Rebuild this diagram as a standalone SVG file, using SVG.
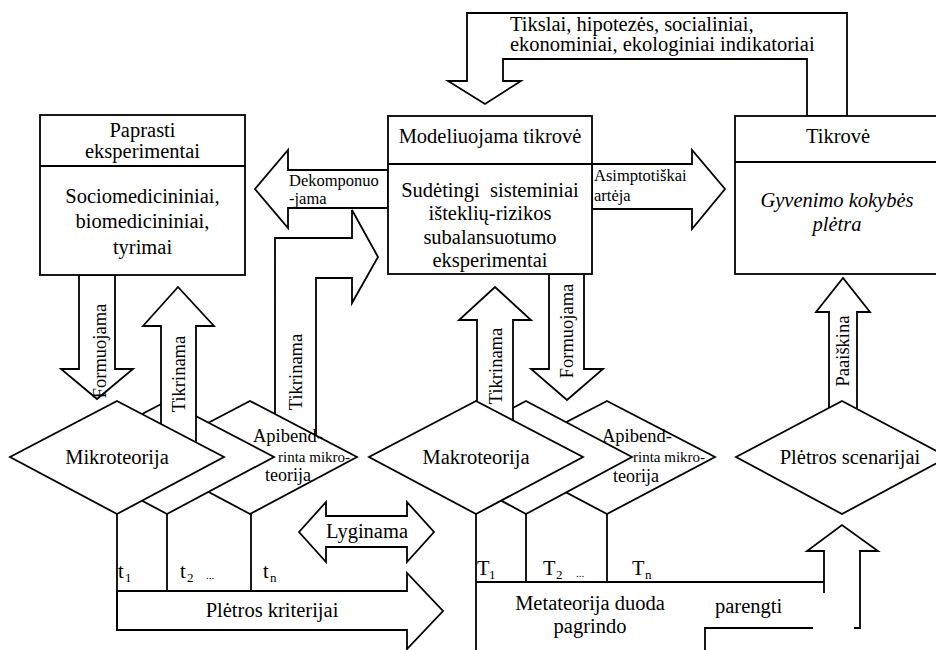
<svg xmlns="http://www.w3.org/2000/svg" width="936" height="650" viewBox="0 0 936 650">
<style>
.s{fill:#fff;stroke:#000;stroke-width:1.8;stroke-linejoin:miter}
.l{fill:none;stroke:#000;stroke-width:1.8}
text{font-family:"Liberation Serif","Times New Roman","DejaVu Serif",serif;fill:#000}
.m{font-size:20.5px}
.c{text-anchor:middle}
.sm{font-size:16.5px}
.v{font-size:18.5px;text-anchor:middle}
.it{font-style:italic}
.sub{font-size:13px}
.dot{font-size:11px}
</style>
<rect width="936" height="650" fill="#fff"/>

<g id="connectors">
  <polygon class="s" points="847,116 847,13 467,13 467,81 448,81 485,104 521,81 503,81 503,59 807,59 807,116"/>
  <polygon class="s" points="388,170 288,170 288,150 255,189 288,228 288,208 388,208"/>
  <polygon class="s" points="592,164 692,164 692,150 725,189 692,229 692,209 592,209"/>
  <polygon class="s" points="275,450 275,238 352,238 352,210 378,257 352,303 352,278 316,278 316,450"/>
  <polygon class="s" points="79,275 115,275 115,369 133,369 97,399 61,369 79,369"/>
  <polygon class="s" points="549,274 584,274 584,369 603,369 567,400 531,369 549,369"/>
  <polygon class="s" points="829,470 829,312 816,312 843,278 870,312 857,312 857,470"/>
  <polygon class="s" points="299,532 326,502 326,516 407,516 407,502 434,532 407,562 407,547 326,547 326,562"/>
  <polygon class="s" points="117,591 407,591 407,573 443,611 407,649 407,630 117,630"/>
  <line class="l" x1="117" y1="514" x2="117" y2="630"/>
  <line class="l" x1="167" y1="514" x2="167" y2="591"/>
  <line class="l" x1="251" y1="514" x2="251" y2="591"/>
  <line class="l" x1="476" y1="514" x2="476" y2="650"/>
  <line class="l" x1="526" y1="514" x2="526" y2="582"/>
  <line class="l" x1="607" y1="514" x2="607" y2="582"/>
  <line class="l" x1="476" y1="582" x2="824" y2="582"/>
  <polyline class="l" points="824,593 824,551 807,551 842,525 878,551 860,551 860,628 854,628"/>
  <polyline class="l" points="813,628 705,628 705,650"/>
</g>

<g id="box-paprasti">
  <rect class="s" x="40" y="115" width="205" height="160"/>
  <line class="l" x1="40" y1="166" x2="245" y2="166"/>
  <text class="m c" x="142.5" y="137">Paprasti</text>
  <text class="m c" x="142.5" y="158">eksperimentai</text>
  <text class="m c" x="142.5" y="203">Sociomedicininiai,</text>
  <text class="m c" x="142.5" y="228">biomedicininiai,</text>
  <text class="m c" x="142.5" y="254">tyrimai</text>
</g>

<g id="box-modeliuojama">
  <rect class="s" x="388" y="116" width="204" height="158"/>
  <line class="l" x1="388" y1="164" x2="592" y2="164"/>
  <text class="m c" x="490" y="143">Modeliuojama tikrovė</text>
  <text class="m c" x="490" y="197" xml:space="preserve">Sudėtingi  sisteminiai</text>
  <text class="m c" x="490" y="220">išteklių-rizikos</text>
  <text class="m c" x="490" y="244">subalansuotumo</text>
  <text class="m c" x="490" y="267">eksperimentai</text>
</g>

<g id="box-tikrove">
  <rect class="s" x="735" y="116" width="215" height="158"/>
  <line class="l" x1="735" y1="162" x2="950" y2="162"/>
  <text class="m c" x="838" y="143">Tikrovė</text>
  <text class="m c it" x="837" y="207">Gyvenimo kokybės</text>
  <text class="m c it" x="837" y="231">plėtra</text>
</g>

<g id="labels">
  <text class="m" x="510" y="31">Tikslai, hipotezės, socialiniai,</text>
  <text class="m" x="510" y="51">ekonominiai, ekologiniai indikatoriai</text>
  <text class="sm" x="289" y="186">Dekomponuo</text>
  <text class="sm" x="289" y="204">-jama</text>
  <text class="sm" x="594" y="181">Asimptotiškai</text>
  <text class="sm" x="594" y="201">artėja</text>
  <text class="v" transform="translate(106,351) rotate(-90)">Formuojama</text>
  <text class="v" transform="translate(302,372) rotate(-90)">Tikrinama</text>
  <text class="v" transform="translate(573,331) rotate(-90)">Formuojama</text>
  <text class="v" transform="translate(849,351) rotate(-90)">Paaiškina</text>
  <text class="m c" x="367" y="538">Lyginama</text>
  <text class="m c" x="272" y="617">Plėtros kriterijai</text>
  <text class="m" x="118" y="578">t</text><text class="sub" x="125" y="582">1</text>
  <text class="m" x="180" y="578">t</text><text class="sub" x="187" y="582">2</text>
  <text class="dot" x="206" y="579">...</text>
  <text class="m" x="263" y="578">t</text><text class="sub" x="270" y="582">n</text>
  <text class="m" x="477" y="575">T</text><text class="sub" x="489" y="579">1</text>
  <text class="m" x="543" y="575">T</text><text class="sub" x="556" y="579">2</text>
  <text class="dot" x="576" y="577">...</text>
  <text class="m" x="632" y="575">T</text><text class="sub" x="645" y="579">n</text>
  <text class="m c" x="590" y="610">Metateorija duoda</text>
  <text class="m c" x="590" y="633">pagrindo</text>
  <text class="m" x="715" y="613">parengti</text>
</g>

<g id="apibendrinta-left">
  <polygon class="s" points="250,401 357,457 250,514 143,457"/>
  <text font-size="18.5" x="253" y="442">Apibend-</text>
  <text font-size="15" x="278" y="462">rinta mikro-</text>
  <text font-size="18" x="265" y="481">teorija</text>
</g>
<g id="mikro-middle">
  <polygon class="s" points="167,401 274,457 167,514 60,457"/>
</g>
<g id="tikrinama-left">
  <polygon class="s" points="161,470 161,326 143,326 178,287 214,326 196,326 196,470"/>
  <text class="v" transform="translate(185,374) rotate(-90)">Tikrinama</text>
</g>
<g id="mikroteorija">
  <polygon class="s" points="117,401 224,457 117,514 10,457"/>
  <text class="m c" x="117" y="464">Mikroteorija</text>
</g>

<g id="apibendrinta-right">
  <polygon class="s" points="607,401 715,457 607,514 499,457"/>
  <text font-size="18.5" x="602" y="442">Apibend-</text>
  <text font-size="15" x="633" y="462">rinta mikro-</text>
  <text font-size="18" x="613" y="482">teorija</text>
</g>
<g id="makro-middle">
  <polygon class="s" points="526,401 632,457 526,514 420,457"/>
</g>
<g id="tikrinama-middle">
  <polygon class="s" points="477,470 477,320 459,320 495,287 531,320 513,320 513,470"/>
  <text class="v" transform="translate(502,366) rotate(-90)">Tikrinama</text>
</g>
<g id="makroteorija">
  <polygon class="s" points="476,401 583,457 476,514 369,457"/>
  <text class="m c" x="476" y="464">Makroteorija</text>
</g>

<g id="pletros-scenarijai">
  <polygon class="s" points="842,401 948,457 842,514 736,457"/>
  <text class="m c" x="850" y="464">Plėtros scenarijai</text>
</g>
</svg>
